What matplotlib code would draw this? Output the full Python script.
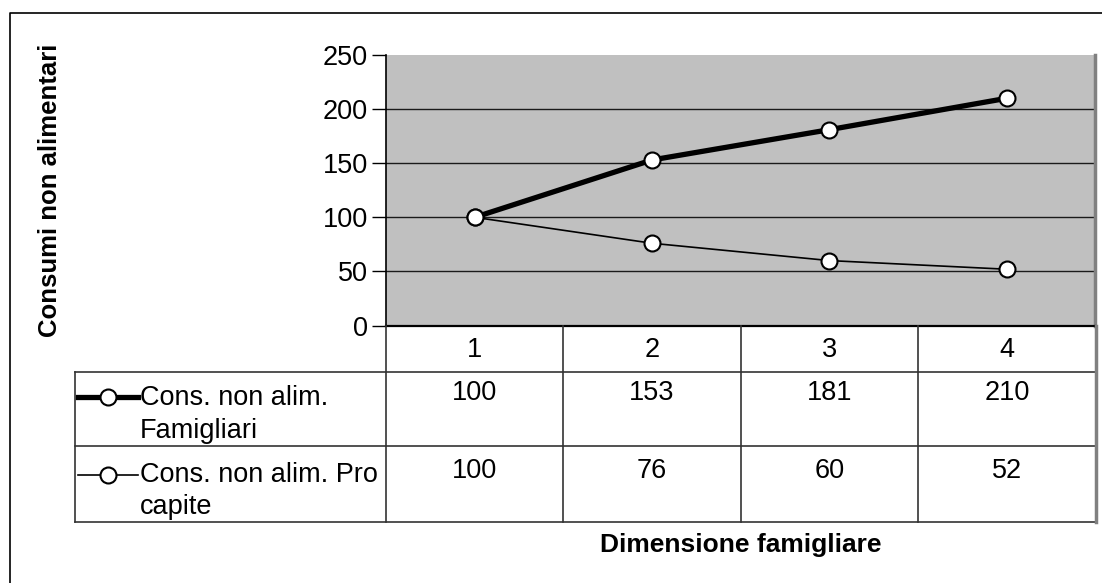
import matplotlib
matplotlib.use("Agg")
import matplotlib.pyplot as plt
from matplotlib.lines import Line2D

# data
categories = [1, 2, 3, 4]
famigliari = [100, 153, 181, 210]
pro_capite = [100, 76, 60, 52]
series_labels = ["Cons. non alim.\nFamigliari", "Cons. non alim. Pro\ncapite"]
y_ticks = [0, 50, 100, 150, 200, 250]
y_label = "Consumi non alimentari"
x_label = "Dimensione famigliare"

plt.rcParams["font.family"] = ["Liberation Sans", "DejaVu Sans"]

W, H = 1102, 583
fig = plt.figure(figsize=(W / 100, H / 100), dpi=100)


def fx(px):
    return px / W


def fy(py):
    return 1 - py / H


FS = 19.5

# plot area (pixel layout of the reference)
L, R, T, B = 386, 1095.5, 55, 325.5
ax = fig.add_axes([fx(L), fy(B), fx(R) - fx(L), fy(T) - fy(B)])
ax.set_facecolor("#c0c0c0")
ax.set_xlim(0.5, len(categories) + 0.5)
ax.set_ylim(y_ticks[0], y_ticks[-1])
ax.set_yticks(y_ticks)
ax.yaxis.grid(True, color="#1a1a1a", lw=1)
ax.get_ygridlines()[-1].set_visible(False)
ax.set_axisbelow(True)
ax.tick_params(axis="y", length=10, width=1, labelsize=FS, pad=3)
ax.tick_params(axis="x", bottom=False, labelbottom=False)
ax.spines["top"].set_visible(False)
ax.spines["left"].set_linewidth(1.2)
ax.spines["bottom"].set_linewidth(1.6)
ax.spines["right"].set_color("#808080")
ax.spines["right"].set_linewidth(2.5)

styles = [dict(lw=3.8), dict(lw=1.2)]
for vals, st in zip([famigliari, pro_capite], styles):
    ax.plot(categories, vals, color="black", marker="o", ms=11.5,
            mfc="white", mec="black", mew=1.5, solid_joinstyle="round", **st)

# data table under the plot
TL, TB = 75, 522
rows = [0, 46.2, 120.5, 196.5]
unit = (R - L) / len(categories)
xmin = 0.5 - (L - TL) / unit
tax = fig.add_axes([fx(TL), fy(TB), fx(R) - fx(TL), fy(B) - fy(TB)])
tax.set_xlim(xmin, len(categories) + 0.5)
tax.set_ylim(rows[-1], rows[0])
tax.axis("off")


def px2x(px):
    return xmin + (px - TL) / unit


lc = "#333333"
for yb in rows[1:]:
    tax.plot([xmin, len(categories) + 0.5], [yb, yb], color=lc, lw=1.2, clip_on=False)
tax.plot([xmin, xmin], [rows[1], rows[-1]], color=lc, lw=1.2, clip_on=False)
for c in categories:
    tax.plot([c - 0.5, c - 0.5], [rows[0], rows[-1]], color=lc, lw=1.2, clip_on=False)
tax.plot([len(categories) + 0.5] * 2, [rows[0], rows[-1]], color="#808080", lw=2.5,
         clip_on=False)

for c in categories:
    tax.text(c, 24.5, str(c), ha="center", va="center", fontsize=FS)

row_mid = [67.5, 145]
label_base = [[79.5, 112.5], [156.2, 189]]
for i, (vals, st, lab) in enumerate(zip([famigliari, pro_capite], styles, series_labels)):
    for c, v in zip(categories, vals):
        tax.text(c, row_mid[i], str(v), ha="center", va="center", fontsize=FS)
    tax.plot([px2x(78), px2x(138)], [row_mid[i] + 4] * 2, color="black", **st)
    tax.plot([px2x(108)], [row_mid[i] + 4], marker="o", ms=11.5, mfc="white",
             mec="black", mew=1.5)
    for line, yb in zip(lab.split("\n"), label_base[i]):
        tax.text(px2x(140), yb, line, ha="left", va="baseline", fontsize=FS)

fig.text(fx(50), fy(190), y_label, rotation=90, ha="center", va="center",
         fontsize=18.5, fontweight="bold")
fig.text(fx(741), fy(545), x_label, ha="center", va="center",
         fontsize=19, fontweight="bold")

# chart area border (left and top visible in the reference)
fig.add_artist(Line2D([fx(9.5), fx(9.5), fx(W)], [0, fy(12.5), fy(12.5)],
                      transform=fig.transFigure, color="black", lw=1.2))

fig.savefig("out.png", dpi=100)
